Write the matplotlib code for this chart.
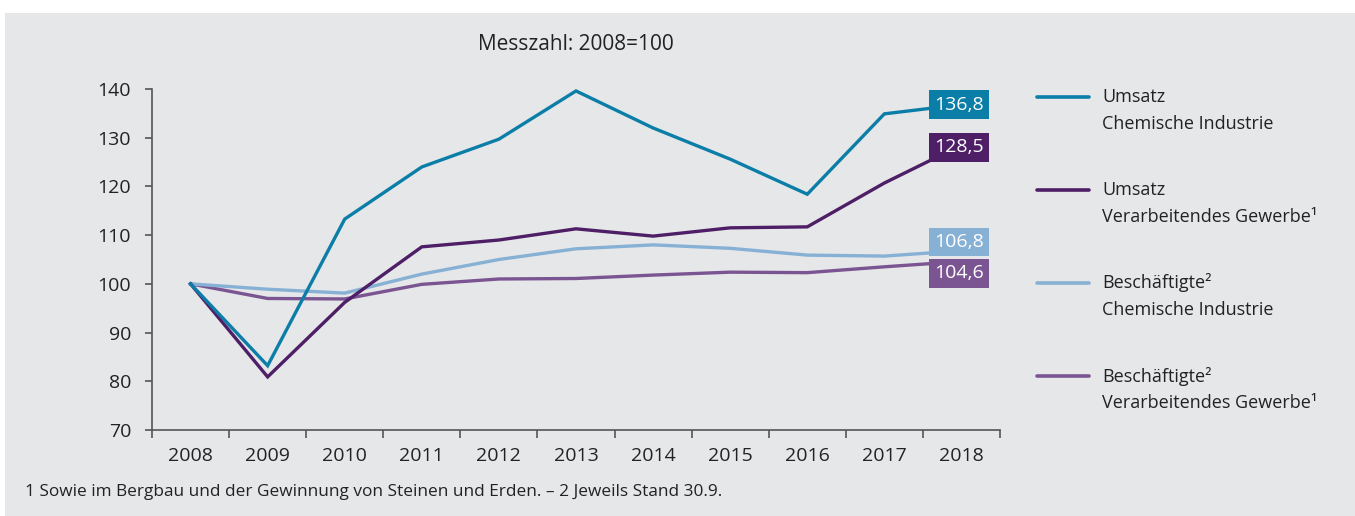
import matplotlib.pyplot as plt
from matplotlib.lines import Line2D
from matplotlib.patches import Rectangle

plt.rcParams['font.family'] = ['Open Sans', 'DejaVu Sans']

years = ['2008', '2009', '2010', '2011', '2012', '2013', '2014', '2015', '2016', '2017', '2018']
umsatz_chemie = [100, 83.2, 113.3, 124.0, 129.7, 139.6, 132.0, 125.6, 118.4, 134.9, 136.8]
umsatz_verarb = [100, 80.9, 96.2, 107.6, 109.0, 111.3, 109.8, 111.5, 111.7, 120.7, 128.5]
besch_chemie = [100, 98.9, 98.1, 102.0, 105.0, 107.2, 108.0, 107.3, 105.9, 105.7, 106.8]
besch_verarb = [100, 97.0, 96.9, 99.9, 101.0, 101.1, 101.8, 102.4, 102.3, 103.5, 104.6]

labels = ['Umsatz\nChemische Industrie',
          'Umsatz\nVerarbeitendes Gewerbe¹',
          'Beschäftigte²\nChemische Industrie',
          'Beschäftigte²\nVerarbeitendes Gewerbe¹']
end_labels = ['136,8', '128,5', '106,8', '104,6']
label_y = [136.8, 128.0, 108.6, 102.2]  # shifted so the boxes don't overlap
colors = ['#0b7ea8', '#4e1f66', '#87b1d4', '#7b5592']
series = [umsatz_chemie, umsatz_verarb, besch_chemie, besch_verarb]

bg = '#e6e7e9'
text_col = '#222222'

fig = plt.figure(figsize=(13.55, 5.16), dpi=100)
fig.patch.set_facecolor('white')
fig.add_artist(Rectangle((5 / 1355, 0), 1, 1 - 13 / 516, transform=fig.transFigure,
                         facecolor=bg, edgecolor='none', zorder=-10))

ax = fig.add_axes([152 / 1355, 86 / 516, 848 / 1355, 341 / 516])
ax.set_facecolor('none')

x = list(range(len(years)))
# draw from back to front like the original
for s, c in zip(series[::-1], colors[::-1]):
    ax.plot(x, s, color=c, lw=2.4, solid_joinstyle='miter', zorder=3)

for t, yv, c in zip(end_labels, label_y, colors):
    ax.text(x[-1] - 0.03, yv, t, color='white', fontsize=14, ha='center', va='center',
            zorder=5,
            bbox=dict(boxstyle='square,pad=0.28', facecolor=c, edgecolor='none'))

ax.set_xlim(-0.5, 10.5)
ax.set_ylim(70, 140)
ax.set_yticks(range(70, 141, 10))
ax.set_xticks(x)
ax.set_xticklabels(years)
ax.set_xticks([i - 0.5 for i in range(len(years) + 1)], minor=True)
ax.tick_params(axis='x', which='major', length=0, pad=12, labelsize=14, colors=text_col)
ax.tick_params(axis='x', which='minor', length=6, width=1.2, color='#555555')
ax.tick_params(axis='y', length=5, width=1.2, color='#555555', labelsize=14,
               labelcolor=text_col, pad=10)
for sp in ['top', 'right']:
    ax.spines[sp].set_visible(False)
for sp in ['left', 'bottom']:
    ax.spines[sp].set_color('#555555')
    ax.spines[sp].set_linewidth(1.2)

fig.text(576 / 1355, 1 - 45 / 516, 'Messzahl: 2008=100', fontsize=15, color=text_col,
         ha='center', va='center')

# legend, drawn by hand
for i, (lab, c) in enumerate(zip(labels, colors)):
    y1 = 97 + i * 93
    fig.add_artist(Line2D([1037 / 1355, 1089 / 1355], [1 - y1 / 516, 1 - y1 / 516],
                          transform=fig.transFigure, color=c, lw=2.6,
                          solid_capstyle='round'))
    for j, part in enumerate(lab.split('\n')):
        fig.text(1102 / 1355, 1 - (y1 + j * 27) / 516, part, fontsize=13, color=text_col,
                 ha='left', va='center')

fig.text(25 / 1355, 1 - 492 / 516,
         '1 Sowie im Bergbau und der Gewinnung von Steinen und Erden. – 2 Jeweils Stand 30.9.',
         fontsize=12.4, color=text_col, ha='left', va='center')

fig.savefig('out.png', dpi=100, facecolor=fig.get_facecolor())
